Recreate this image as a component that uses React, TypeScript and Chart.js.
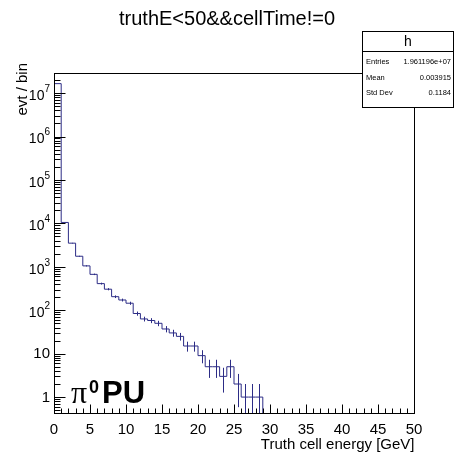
import React, { useEffect, useRef } from 'react';
import { Chart, registerables } from 'chart.js';

Chart.register(...registerables);

// ---- data ----
const title = 'truthE<50&&cellTime!=0';
const histName = 'h';
const statsLabels = ['Entries', 'Mean', 'Std Dev'];
const statsValues = ['1.961196e+07', '0.003915', '0.1184'];
const xTitle = 'Truth cell energy [GeV]';
const yTitle = 'evt / bin';
const xMin = 0;
const xMax = 50;
const binWidth = 1;
const yMin = 0.43;
const yMax = 2.9e7;
// entries per 1 GeV bin, 0..50 GeV
const counts = [
  1.65e7, 10500, 3500, 1750, 1050, 670, 410, 305, 205, 172,
  145, 84, 63, 58, 50, 37, 30, 25, 15, 15,
  9, 5, 5, 3, 5, 2, 1, 1, 1, 0,
  0, 0, 0, 0, 0, 0, 0, 0, 0, 0,
  0, 0, 0, 0, 0, 0, 0, 0, 0, 0,
];
const xTickLabels = ['0', '5', '10', '15', '20', '25', '30', '35', '40', '45', '50'];
const yTickExponents = [0, 1, 2, 3, 4, 5, 6, 7];

const FONT = '"Liberation Sans", Arial, Helvetica, sans-serif';
const LINE = '#2c2c86';

function buildSteps() {
  // points at bin starts; stepped 'before' draws the horizontal at the previous value first
  const pts: { x: number; y: number }[] = [];
  let last = -1;
  counts.forEach((c, i) => { if (c > 0) last = i; });
  const floor = yMin * 0.5;
  pts.push({ x: xMin, y: floor });
  for (let i = 0; i <= last; i++) {
    pts.push({ x: xMin + i * binWidth, y: counts[i] > 0 ? counts[i] : floor });
  }
  pts.push({ x: xMin + (last + 1) * binWidth, y: floor });
  return pts;
}

const rootPlugin = {
  id: 'rootStyle',
  afterDatasetsDraw(chart: any) {
    const { ctx, chartArea } = chart;
    const xs = chart.scales.x;
    const ys = chart.scales.y;
    ctx.save();
    ctx.beginPath();
    ctx.rect(chartArea.left, chartArea.top, chartArea.right - chartArea.left, chartArea.bottom - chartArea.top);
    ctx.clip();
    ctx.strokeStyle = LINE;
    ctx.lineWidth = 1;
    counts.forEach((c, i) => {
      if (c <= 0) return;
      const err = Math.sqrt(c);
      const px = Math.round(xs.getPixelForValue(xMin + (i + 0.5) * binWidth)) + 0.5;
      const yTop = ys.getPixelForValue(c + err);
      const yBot = c - err > 0 ? ys.getPixelForValue(c - err) : chartArea.bottom;
      ctx.beginPath();
      ctx.moveTo(px, yTop);
      ctx.lineTo(px, yBot);
      ctx.stroke();
    });
    ctx.restore();
  },
  afterDraw(chart: any) {
    const { ctx, chartArea } = chart;
    const xs = chart.scales.x;
    const ys = chart.scales.y;
    const L = Math.round(chartArea.left) + 0.5;
    const R = Math.round(chartArea.right) + 0.5;
    const T = Math.round(chartArea.top) + 0.5;
    const B = Math.round(chartArea.bottom) + 0.5;
    ctx.save();
    ctx.strokeStyle = '#000';
    ctx.lineWidth = 1;
    ctx.strokeRect(L, T, R - L, B - T);

    // x ticks
    ctx.beginPath();
    for (let v = xMin; v <= xMax; v += 1) {
      const px = Math.round(xs.getPixelForValue(v)) + 0.5;
      const len = v % 5 === 0 ? 9 : 5;
      ctx.moveTo(px, B);
      ctx.lineTo(px, B - len);
    }
    // y ticks (log)
    for (let d = -1; d <= 8; d++) {
      for (let m = 1; m <= 9; m++) {
        const v = m * Math.pow(10, d);
        if (v < yMin || v > yMax) continue;
        const py = Math.round(ys.getPixelForValue(v)) + 0.5;
        const len = m === 1 ? 11 : 6;
        ctx.moveTo(L, py);
        ctx.lineTo(L + len, py);
      }
    }
    ctx.stroke();

    ctx.fillStyle = '#000';
    // x labels
    ctx.font = `15px ${FONT}`;
    ctx.textAlign = 'center';
    ctx.textBaseline = 'alphabetic';
    xTickLabels.forEach((lab) => {
      const v = parseFloat(lab);
      ctx.fillText(lab, xs.getPixelForValue(v), 434);
    });
    // x title
    ctx.textAlign = 'right';
    ctx.fillText(xTitle, R, 449);

    // y labels
    const rightX = chartArea.left - 4;
    yTickExponents.forEach((e) => {
      const py = ys.getPixelForValue(Math.pow(10, e));
      ctx.textBaseline = 'middle';
      if (e === 0 || e === 1) {
        ctx.font = `15px ${FONT}`;
        ctx.textAlign = 'right';
        ctx.fillText(e === 0 ? '1' : '10', rightX, py + 0.5);
      } else {
        ctx.font = `10px ${FONT}`;
        const sup = String(e);
        const sw = ctx.measureText(sup).width;
        ctx.textAlign = 'left';
        ctx.fillText(sup, rightX - sw, py - 4);
        ctx.font = `14px ${FONT}`;
        ctx.textAlign = 'right';
        ctx.fillText('10', rightX - sw, py + 3);
      }
    });

    // y title
    ctx.save();
    ctx.translate(27, 63);
    ctx.rotate(-Math.PI / 2);
    ctx.font = `15px ${FONT}`;
    ctx.textAlign = 'right';
    ctx.textBaseline = 'alphabetic';
    ctx.fillText(yTitle, 0, 0);
    ctx.restore();

    // title
    ctx.font = `20px ${FONT}`;
    ctx.textAlign = 'center';
    ctx.textBaseline = 'alphabetic';
    ctx.fillText(title, 227, 25);

    // stats box
    const bx = 362.5, by = 31.5, bw = 91, bh = 76;
    ctx.fillStyle = '#fff';
    ctx.fillRect(bx, by, bw, bh);
    ctx.strokeStyle = '#000';
    ctx.strokeRect(bx, by, bw, bh);
    ctx.beginPath();
    ctx.moveTo(bx, 51.5);
    ctx.lineTo(bx + bw, 51.5);
    ctx.stroke();
    ctx.fillStyle = '#000';
    ctx.font = `14px ${FONT}`;
    ctx.textAlign = 'center';
    ctx.fillText(histName, bx + bw / 2, 46);
    ctx.font = `7.5px ${FONT}`;
    statsLabels.forEach((lab, i) => {
      const yb = 64 + i * 15.5;
      ctx.textAlign = 'left';
      ctx.fillText(lab, 366, yb);
      ctx.textAlign = 'right';
      ctx.fillText(statsValues[i], 451, yb);
    });

    // pi0 PU label
    ctx.textAlign = 'left';
    ctx.font = `32px "Liberation Serif", "DejaVu Serif", serif`;
    ctx.fillText('π', 71, 403);
    ctx.font = `bold 18px ${FONT}`;
    ctx.fillText('0', 89, 393);
    ctx.font = `bold 31px ${FONT}`;
    ctx.fillText('PU', 102, 403);
    ctx.restore();
  },
};

export default function App() {
  const ref = useRef<HTMLCanvasElement>(null);
  useEffect(() => {
    if (!ref.current) return;
    const chart = new Chart(ref.current, {
      type: 'line',
      data: {
        datasets: [
          {
            data: buildSteps(),
            stepped: 'before',
            borderColor: LINE,
            borderWidth: 1,
            pointRadius: 0,
            fill: false,
            tension: 0,
          },
        ],
      },
      options: {
        animation: false,
        responsive: false,
        devicePixelRatio: 1,
        events: [],
        layout: { padding: { left: 54, right: 41, top: 73, bottom: 39 } },
        plugins: { legend: { display: false }, tooltip: { enabled: false }, title: { display: false } },
        scales: {
          x: { type: 'linear', min: xMin, max: xMax, display: false },
          y: { type: 'logarithmic', min: yMin, max: yMax, display: false },
        },
      },
      plugins: [rootPlugin],
    } as any);
    return () => chart.destroy();
  }, []);
  return (
    <div style={{ position: 'absolute', left: 0, top: 0, width: 455, height: 452, background: '#fff' }}>
      <canvas ref={ref} width={455} height={452} style={{ display: 'block' }} />
    </div>
  );
}
